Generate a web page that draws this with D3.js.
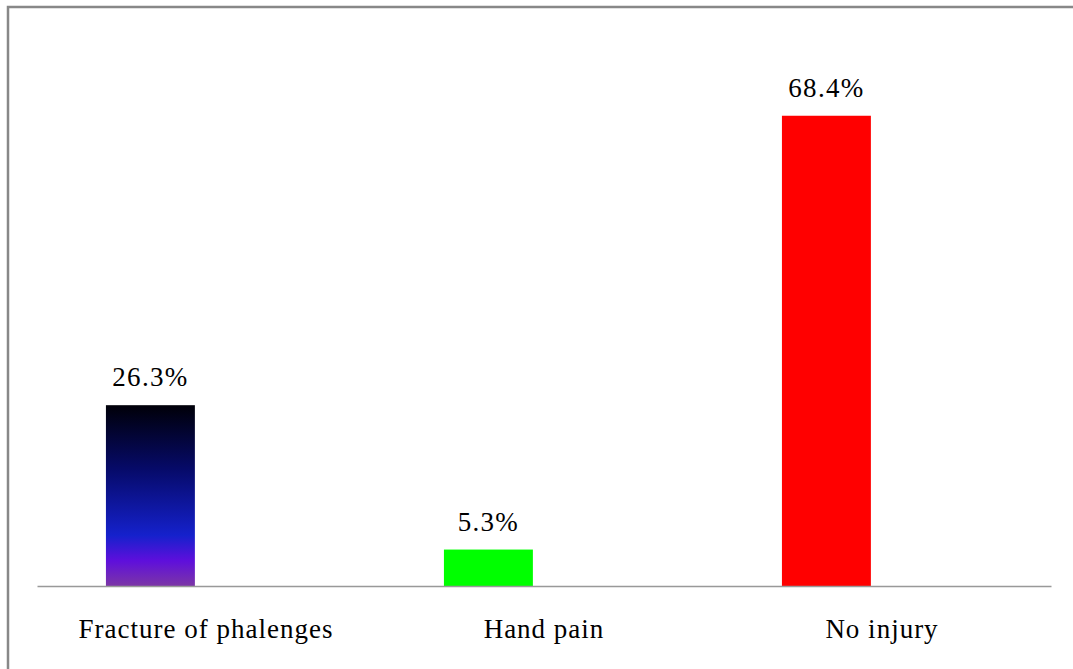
<!DOCTYPE html>
<html>
<head>
<meta charset="utf-8">
<script src="https://cdn.jsdelivr.net/npm/d3@7"></script>
<style>
  body { margin: 0; background: #fff; }
</style>
</head>
<body>
<svg id="chart" width="1073" height="669"></svg>
<script>
// data
var categories = ["Fracture of phalenges", "Hand pain", "No injury"];
var values = [26.3, 5.3, 68.4];
var valueLabels = ["26.3%", "5.3%", "68.4%"];
var barFills = ["url(#fracGrad)", "#00ff00", "#ff0000"];

var serif = "'Liberation Serif'";

var svg = d3.select("#chart"),
    margin = {top: 36, right: 22, bottom: 83, left: 37},
    width = +svg.attr("width") - margin.left - margin.right,
    height = +svg.attr("height") - margin.top - margin.bottom;

// outer frame (only left and top edges fall inside the window)
svg.append("rect")
    .attr("x", 8)
    .attr("y", 7)
    .attr("width", 1100)
    .attr("height", 700)
    .attr("fill", "none")
    .attr("stroke", "#888")
    .attr("stroke-width", 2.5);

// gradient for the first bar
var grad = svg.append("defs").append("linearGradient")
    .attr("id", "fracGrad")
    .attr("x1", 0).attr("y1", 0).attr("x2", 0).attr("y2", 1);
[[0, "#000008"], [0.35, "#060a68"], [0.72, "#1521cc"], [0.86, "#5e0fdc"], [1, "#7c36a6"]]
    .forEach(function(s) {
        grad.append("stop").attr("offset", s[0]).attr("stop-color", s[1]);
    });

var g = svg.append("g").attr("transform", "translate(" + margin.left + "," + margin.top + ")");

var x = d3.scaleBand()
    .domain(categories)
    .range([0, width])
    .paddingInner(0)
    .paddingOuter(0);

// bars sit left of the category centre, like the first slot of a cluster
var slot = d3.scaleBand()
    .domain(["a", "b"])
    .range([0, x.bandwidth()])
    .paddingInner(0.2)
    .paddingOuter(0.62);

var y = d3.scaleLinear()
    .domain([0, 80])
    .range([height, 0]);

g.selectAll(".bar")
    .data(values)
    .enter().append("rect")
    .attr("class", "bar")
    .attr("x", function(d, i) { return x(categories[i]) + slot("a"); })
    .attr("width", slot.bandwidth())
    .attr("y", function(d) { return y(d); })
    .attr("height", function(d) { return height - y(d); })
    .attr("fill", function(d, i) { return barFills[i]; });

g.selectAll(".val")
    .data(values)
    .enter().append("text")
    .attr("class", "val")
    .attr("x", function(d, i) { return x(categories[i]) + slot("a") + slot.bandwidth() / 2; })
    .attr("y", function(d) { return y(d) - 19; })
    .attr("text-anchor", "middle")
    .attr("fill", "#000")
    .style("font-family", serif)
    .style("font-size", "27px")
    .style("letter-spacing", "1.3px")
    .text(function(d, i) { return valueLabels[i]; });

// category axis
var xAxis = g.append("g")
    .attr("transform", "translate(0," + height + ")")
    .call(d3.axisBottom(x).tickSize(0).tickPadding(0));

xAxis.select(".domain")
    .attr("stroke", "#999")
    .attr("stroke-width", 1.5);

xAxis.selectAll("text")
    .attr("dy", 0)
    .attr("y", 52)
    .attr("fill", "#000")
    .style("font-size", "27px")
    .style("letter-spacing", "1px")
    .style("font-family", serif);
</script>
</body>
</html>
